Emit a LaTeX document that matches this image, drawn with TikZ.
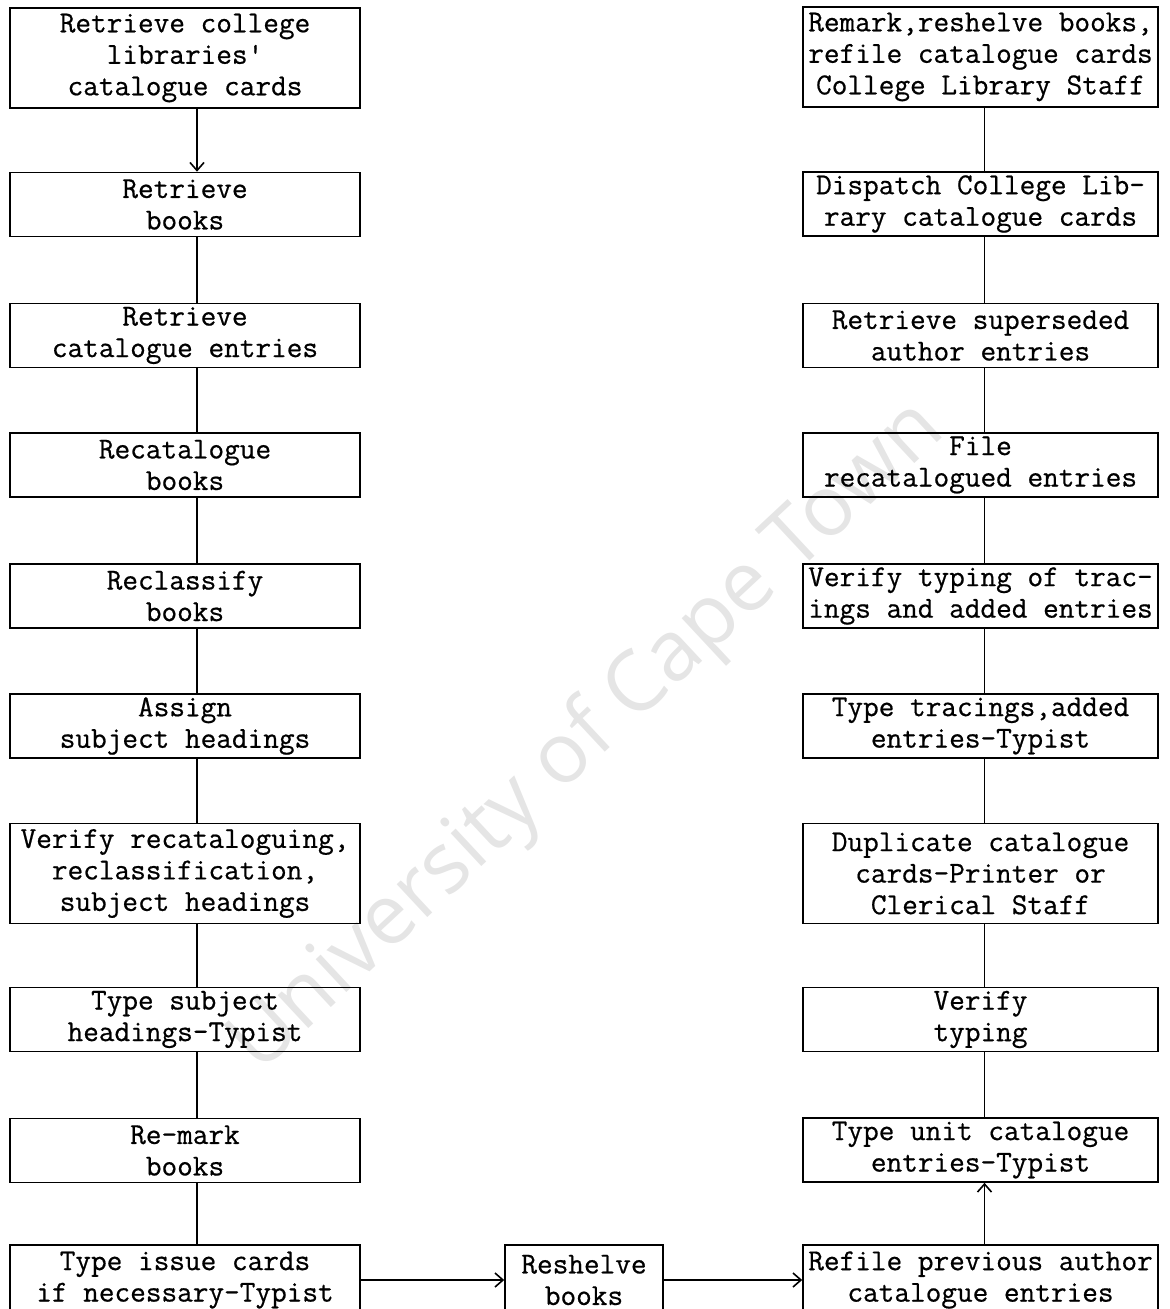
\documentclass[tikz,border=0pt]{standalone}
\usepackage{fontspec}
\newfontfamily\wmfont{Open Sans}
\newfontfamily\typer{Latin Modern Mono}[FakeBold=0.6]
\usetikzlibrary{arrows.meta}

\tikzset{
  stage/.style={draw, line width=0.8pt, rectangle, inner sep=1pt, align=center,
    font=\typer\fontsize{15.2}{15.75}\selectfont},
  leftstage/.style={stage, minimum width=175pt},
  rightstage/.style={stage, minimum width=177.5pt},
  twoline/.style={minimum height=32pt},
  threeline/.style={minimum height=50pt},
  link/.style={line width=0.8pt},
  flow/.style={link, -{Straight Barb[length=4pt,width=7pt]}}
}

\begin{document}
\begin{tikzpicture}[x=0.5pt, y=-0.5pt]

  %%-- PAGE (1170 x 1309) --%%
  \useasboundingbox (0,0) rectangle (1170,1309);

  %%-- WATERMARK --%%
  \node[rotate=43, text=black!10, font=\wmfont\fontsize{42}{46}\selectfont] (mark) at (588,738) {University of Cape Town};

  %%-- LEFT COLUMN (x = 10 to 360) --%%
  \node[leftstage, threeline] (l1)  at (185,58)     {Retrieve college\\libraries'\\catalogue cards};
  \node[leftstage, twoline]   (l2)  at (185,204.5)  {Retrieve\\books};
  \node[leftstage, twoline]   (l3)  at (185,335.5)  {Retrieve\\catalogue entries};
  \node[leftstage, twoline]   (l4)  at (185,465)    {Recatalogue\\books};
  \node[leftstage, twoline]   (l5)  at (185,596)    {Reclassify\\books};
  \node[leftstage, twoline]   (l6)  at (185,726)    {Assign\\subject headings};
  \node[leftstage, threeline] (l7)  at (185,873.5)  {Verify recataloguing,\\reclassification,\\subject headings};
  \node[leftstage, twoline]   (l8)  at (185,1019.5) {Type subject\\headings-Typist};
  \node[leftstage, twoline]   (l9)  at (185,1150.5) {Re-mark\\books};
  \node[leftstage, minimum height=35pt] (l10) at (185,1280) {Type issue cards\\if necessary-Typist};

  %%-- MIDDLE (bottom row) --%%
  \node[stage, minimum width=79pt, minimum height=35pt] (mid) at (584,1280) {Reshelve\\books};

  %%-- RIGHT COLUMN (x = 803 to 1158) --%%
  \node[rightstage, threeline] (r1)  at (980.5,57)     {Remark,reshelve books,\\refile catalogue cards\\College Library Staff};
  \node[rightstage, twoline]   (r2)  at (980.5,204)    {Dispatch College Lib-\\rary catalogue cards};
  \node[rightstage, twoline]   (r3)  at (980.5,335.5)  {Retrieve superseded\\author entries};
  \node[rightstage, twoline]   (r4)  at (980.5,465)    {File\\recatalogued entries};
  \node[rightstage, twoline]   (r5)  at (980.5,596)    {Verify typing of trac-\\ings and added entries};
  \node[rightstage, twoline]   (r6)  at (980.5,726)    {Type tracings,added\\entries-Typist};
  \node[rightstage, threeline] (r7)  at (980.5,873.5)  {Duplicate catalogue\\cards-Printer or\\Clerical Staff};
  \node[rightstage, twoline]   (r8)  at (980.5,1019.5) {Verify\\typing};
  \node[rightstage, twoline]   (r9)  at (980.5,1150)   {Type unit catalogue\\entries-Typist};
  \node[rightstage, minimum height=35pt] (r10) at (980.5,1280) {Refile previous author\\catalogue entries};

  %%-- CONNECTORS --%%
  \draw[flow] ([xshift=6pt]l1.south) -- ([xshift=6pt]l2.north);
  \foreach \a/\b in {l2/l3, l3/l4, l4/l5, l5/l6, l6/l7, l7/l8, l8/l9, l9/l10} {
    \draw[link] ([xshift=6pt]\a.south) -- ([xshift=6pt]\b.north);
  }
  \foreach \a/\b in {r1/r2, r2/r3, r3/r4, r4/r5, r5/r6, r6/r7, r7/r8, r8/r9} {
    \draw[link] ([xshift=2pt]\a.south) -- ([xshift=2pt]\b.north);
  }
  \draw[flow] ([xshift=2pt]r10.north) -- ([xshift=2pt]r9.south);
  \draw[flow] (l10.east) -- (mid.west);
  \draw[flow] (mid.east) -- (r10.west);

\end{tikzpicture}
\end{document}
